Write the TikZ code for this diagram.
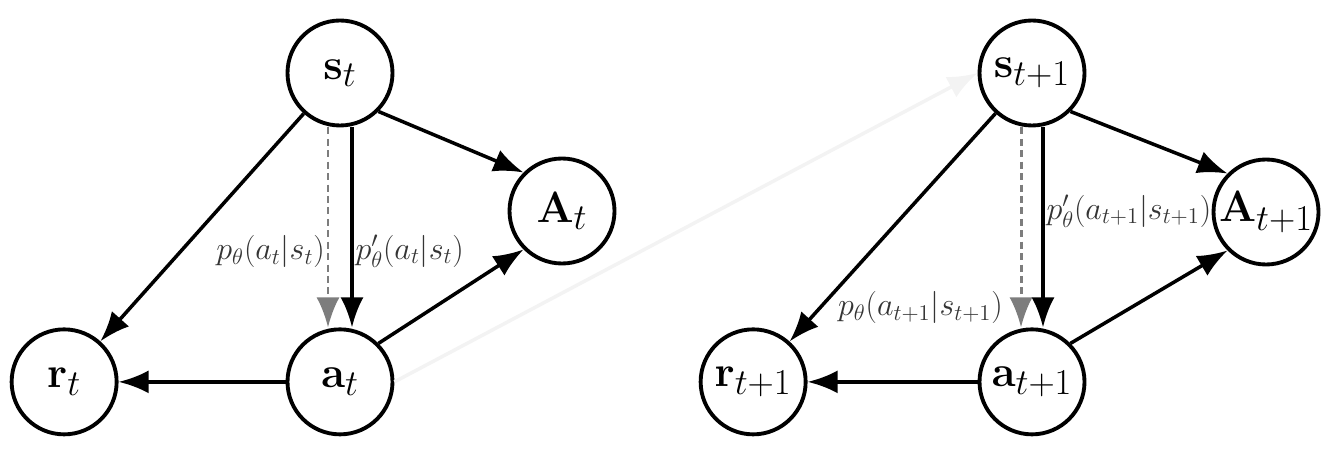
\documentclass[tikz,border=0pt]{standalone}
\usepackage{fix-cm}
\usepackage{amsmath}
\usetikzlibrary{arrows.meta,positioning}
\definecolor{inkgray}{RGB}{52,52,52}
\definecolor{dashgray}{RGB}{125,125,125}
\definecolor{ghostgray}{RGB}{243,243,243}
\tikzset{
  var/.style={circle,draw=black,line width=2.2pt,minimum size=21mm,
    inner sep=0pt,font=\Huge},
  flow/.style={-{Latex[length=6mm,width=4.6mm]},line width=2pt},
  altflow/.style={-{Latex[length=6mm,width=4.6mm]},line width=1.7pt,
    draw=dashgray,dash pattern=on 4pt off 2.5pt},
  ghostflow/.style={-{Latex[length=6mm,width=4.6mm]},line width=2pt,draw=ghostgray},
  plab/.style={font=\fontsize{18.3}{22}\selectfont,text=inkgray,inner sep=1pt}
}

\begin{document}
\begin{tikzpicture}
  \useasboundingbox (0,0) rectangle (26.74,-9.1);
  % time step t
  \node[var] (st) at (6.8,-1.46) {$\mathbf{s}_t$};
  \node[var,below=4cm of st] (at) {$\mathbf{a}_t$};
  \node[var,left=3.34cm of at] (rt) {$\mathbf{r}_t$};
  \node[var] (At) at (11.24,-4.22) {$\mathbf{A}_t$};
  % time step t+1
  \node[var] (s1) at (20.64,-1.46) {$\mathbf{s}_{t+1}$};
  \node[var,below=4cm of s1] (a1) {$\mathbf{a}_{t+1}$};
  \node[var,left=3.4cm of a1] (r1) {$\mathbf{r}_{t+1}$};
  \node[var] (A1) at (25.32,-4.24) {$\mathbf{A}_{t+1}$};

  \draw[ghostflow] (at.east) -- (s1.west);

  \draw[flow] (st) -- (rt);
  \draw[flow] (st.south east) -- (At.north west);
  \draw[flow] (at.north east) -- (At.south west);
  \draw[flow] (at) -- (rt);
  \draw[altflow] ([xshift=-2.4mm]st.south) --
    node[plab,left,pos=0.62]{$p_\theta(a_t|s_t)$} ([xshift=-2.4mm]at.north);
  \draw[flow] ([xshift=2.4mm]st.south) --
    node[plab,right,pos=0.62]{$p'_\theta(a_t|s_t)$} ([xshift=2.4mm]at.north);

  \draw[flow] (s1) -- (r1);
  \draw[flow] (s1.south east) -- (A1.north west);
  \draw[flow] (a1.north east) -- (A1.south west);
  \draw[flow] (a1) -- (r1);
  \draw[altflow] ([xshift=-2.2mm]s1.south) --
    node[plab,left=3mm,pos=0.9]{$p_\theta(a_{t+1}|s_{t+1})$} ([xshift=-2.2mm]a1.north);
  \draw[flow] ([xshift=2.2mm]s1.south) --
    node[plab,right,pos=0.42]{$p'_\theta(a_{t+1}|s_{t+1})$} ([xshift=2.2mm]a1.north);
\end{tikzpicture}
\end{document}
